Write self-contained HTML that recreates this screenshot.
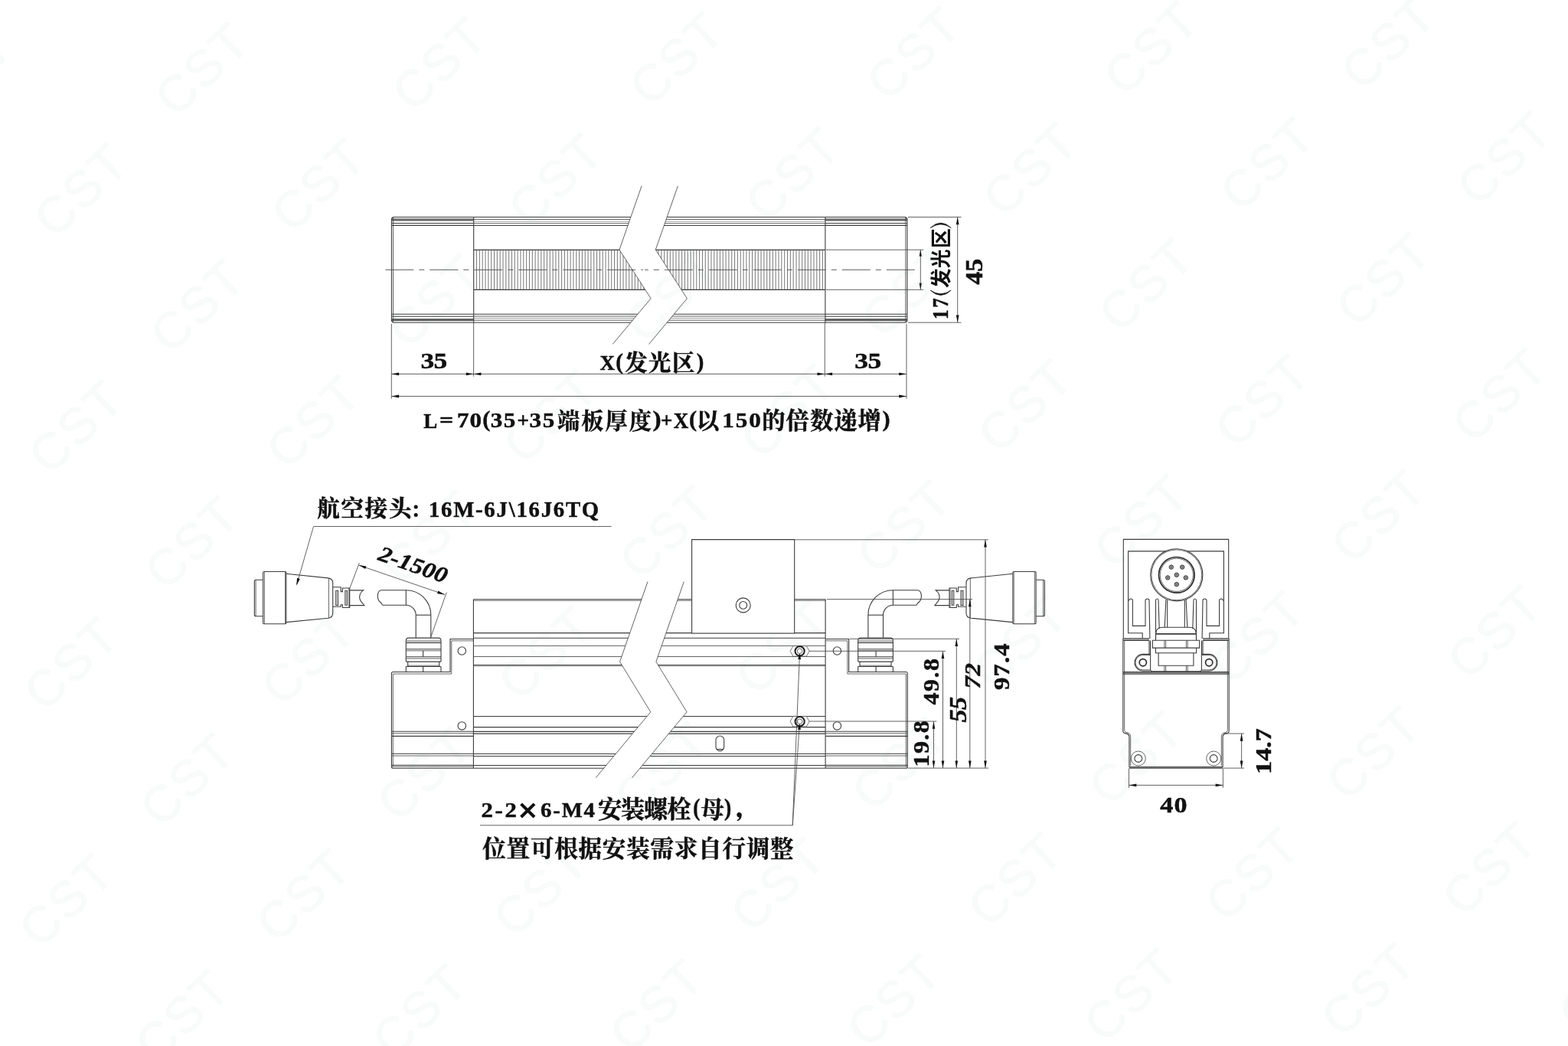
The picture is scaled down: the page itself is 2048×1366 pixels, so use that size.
<!DOCTYPE html>
<html lang="zh"><head><meta charset="utf-8"><title>Dimension drawing</title><style>
html,body{margin:0;padding:0;background:#fff;overflow:hidden}
svg{display:block;will-change:transform}
.o{fill:none;stroke:#3c3c3c;stroke-width:1.1}
.t{fill:none;stroke:#484848;stroke-width:.85}
.l{fill:none;stroke:#8a8a8a;stroke-width:.8}
.h{fill:none;stroke:#555;stroke-width:.8}
.k{fill:none;stroke:#1a1a1a;stroke-width:2}
.k2{fill:none;stroke:#2a2a2a;stroke-width:1.7}
.w{fill:#fff;stroke:none}
.a{fill:#111;stroke:none}
.cl{fill:none;stroke:#444;stroke-width:.85;stroke-dasharray:37 7 7 7}
.g{fill:#111}
text{font-kerning:none;font-family:"Liberation Serif",serif;font-weight:bold;fill:#111;stroke:#111;stroke-width:.5px}
text.cj{font-family:"Liberation Serif","Noto Serif CJK SC",serif;font-weight:bold}
text.cs{font-family:"Liberation Sans","Noto Sans CJK SC",sans-serif;font-weight:bold;stroke:none}
.wm text{font-family:"Liberation Sans",sans-serif;font-weight:normal;fill:#f8fbfa;stroke:#f8fbfa;stroke-width:1px;font-size:66px;letter-spacing:3px}
</style></head><body>
<svg role="img" aria-label="Dimension drawing of linear light with aviation connector" width="2048" height="1366" viewBox="0 0 2048 1366">
<g class="wm"><text text-anchor="middle" transform="translate(115.0 -64.9) rotate(-43.5)" x="-4" y="24">CST</text><text text-anchor="middle" transform="translate(424.9 -71.8) rotate(-43.5)" x="-4" y="24">CST</text><text text-anchor="middle" transform="translate(734.7 -78.7) rotate(-43.5)" x="-4" y="24">CST</text><text text-anchor="middle" transform="translate(1044.6 -85.6) rotate(-43.5)" x="-4" y="24">CST</text><text text-anchor="middle" transform="translate(1354.4 -92.5) rotate(-43.5)" x="-4" y="24">CST</text><text text-anchor="middle" transform="translate(1664.3 -99.4) rotate(-43.5)" x="-4" y="24">CST</text><text text-anchor="middle" transform="translate(1974.1 -106.3) rotate(-43.5)" x="-4" y="24">CST</text><text text-anchor="middle" transform="translate(-43.2 93.1) rotate(-43.5)" x="-4" y="24">CST</text><text text-anchor="middle" transform="translate(266.7 86.2) rotate(-43.5)" x="-4" y="24">CST</text><text text-anchor="middle" transform="translate(576.5 79.3) rotate(-43.5)" x="-4" y="24">CST</text><text text-anchor="middle" transform="translate(886.4 72.4) rotate(-43.5)" x="-4" y="24">CST</text><text text-anchor="middle" transform="translate(1196.2 65.5) rotate(-43.5)" x="-4" y="24">CST</text><text text-anchor="middle" transform="translate(1506.1 58.6) rotate(-43.5)" x="-4" y="24">CST</text><text text-anchor="middle" transform="translate(1816.0 51.8) rotate(-43.5)" x="-4" y="24">CST</text><text text-anchor="middle" transform="translate(2125.8 44.9) rotate(-43.5)" x="-4" y="24">CST</text><text text-anchor="middle" transform="translate(108.5 244.2) rotate(-43.5)" x="-4" y="24">CST</text><text text-anchor="middle" transform="translate(418.4 237.3) rotate(-43.5)" x="-4" y="24">CST</text><text text-anchor="middle" transform="translate(728.2 230.4) rotate(-43.5)" x="-4" y="24">CST</text><text text-anchor="middle" transform="translate(1038.1 223.6) rotate(-43.5)" x="-4" y="24">CST</text><text text-anchor="middle" transform="translate(1347.9 216.7) rotate(-43.5)" x="-4" y="24">CST</text><text text-anchor="middle" transform="translate(1657.8 209.8) rotate(-43.5)" x="-4" y="24">CST</text><text text-anchor="middle" transform="translate(1967.6 202.9) rotate(-43.5)" x="-4" y="24">CST</text><text text-anchor="middle" transform="translate(-49.6 402.2) rotate(-43.5)" x="-4" y="24">CST</text><text text-anchor="middle" transform="translate(260.2 395.4) rotate(-43.5)" x="-4" y="24">CST</text><text text-anchor="middle" transform="translate(570.1 388.5) rotate(-43.5)" x="-4" y="24">CST</text><text text-anchor="middle" transform="translate(879.9 381.6) rotate(-43.5)" x="-4" y="24">CST</text><text text-anchor="middle" transform="translate(1189.8 374.7) rotate(-43.5)" x="-4" y="24">CST</text><text text-anchor="middle" transform="translate(1499.6 367.8) rotate(-43.5)" x="-4" y="24">CST</text><text text-anchor="middle" transform="translate(1809.5 360.9) rotate(-43.5)" x="-4" y="24">CST</text><text text-anchor="middle" transform="translate(2119.3 354.0) rotate(-43.5)" x="-4" y="24">CST</text><text text-anchor="middle" transform="translate(102.0 553.4) rotate(-43.5)" x="-4" y="24">CST</text><text text-anchor="middle" transform="translate(411.9 546.5) rotate(-43.5)" x="-4" y="24">CST</text><text text-anchor="middle" transform="translate(721.7 539.6) rotate(-43.5)" x="-4" y="24">CST</text><text text-anchor="middle" transform="translate(1031.6 532.7) rotate(-43.5)" x="-4" y="24">CST</text><text text-anchor="middle" transform="translate(1341.4 525.8) rotate(-43.5)" x="-4" y="24">CST</text><text text-anchor="middle" transform="translate(1651.3 518.9) rotate(-43.5)" x="-4" y="24">CST</text><text text-anchor="middle" transform="translate(1961.1 512.0) rotate(-43.5)" x="-4" y="24">CST</text><text text-anchor="middle" transform="translate(-56.1 711.4) rotate(-43.5)" x="-4" y="24">CST</text><text text-anchor="middle" transform="translate(253.7 704.5) rotate(-43.5)" x="-4" y="24">CST</text><text text-anchor="middle" transform="translate(563.6 697.6) rotate(-43.5)" x="-4" y="24">CST</text><text text-anchor="middle" transform="translate(873.4 690.7) rotate(-43.5)" x="-4" y="24">CST</text><text text-anchor="middle" transform="translate(1183.3 683.8) rotate(-43.5)" x="-4" y="24">CST</text><text text-anchor="middle" transform="translate(1493.1 676.9) rotate(-43.5)" x="-4" y="24">CST</text><text text-anchor="middle" transform="translate(1803.0 670.1) rotate(-43.5)" x="-4" y="24">CST</text><text text-anchor="middle" transform="translate(2112.8 663.2) rotate(-43.5)" x="-4" y="24">CST</text><text text-anchor="middle" transform="translate(95.6 862.5) rotate(-43.5)" x="-4" y="24">CST</text><text text-anchor="middle" transform="translate(405.4 855.6) rotate(-43.5)" x="-4" y="24">CST</text><text text-anchor="middle" transform="translate(715.3 848.7) rotate(-43.5)" x="-4" y="24">CST</text><text text-anchor="middle" transform="translate(1025.1 841.9) rotate(-43.5)" x="-4" y="24">CST</text><text text-anchor="middle" transform="translate(1335.0 835.0) rotate(-43.5)" x="-4" y="24">CST</text><text text-anchor="middle" transform="translate(1644.8 828.1) rotate(-43.5)" x="-4" y="24">CST</text><text text-anchor="middle" transform="translate(1954.7 821.2) rotate(-43.5)" x="-4" y="24">CST</text><text text-anchor="middle" transform="translate(-62.6 1020.5) rotate(-43.5)" x="-4" y="24">CST</text><text text-anchor="middle" transform="translate(247.2 1013.7) rotate(-43.5)" x="-4" y="24">CST</text><text text-anchor="middle" transform="translate(557.1 1006.8) rotate(-43.5)" x="-4" y="24">CST</text><text text-anchor="middle" transform="translate(866.9 999.9) rotate(-43.5)" x="-4" y="24">CST</text><text text-anchor="middle" transform="translate(1176.8 993.0) rotate(-43.5)" x="-4" y="24">CST</text><text text-anchor="middle" transform="translate(1486.6 986.1) rotate(-43.5)" x="-4" y="24">CST</text><text text-anchor="middle" transform="translate(1796.5 979.2) rotate(-43.5)" x="-4" y="24">CST</text><text text-anchor="middle" transform="translate(2106.3 972.3) rotate(-43.5)" x="-4" y="24">CST</text><text text-anchor="middle" transform="translate(89.1 1171.7) rotate(-43.5)" x="-4" y="24">CST</text><text text-anchor="middle" transform="translate(398.9 1164.8) rotate(-43.5)" x="-4" y="24">CST</text><text text-anchor="middle" transform="translate(708.8 1157.9) rotate(-43.5)" x="-4" y="24">CST</text><text text-anchor="middle" transform="translate(1018.6 1151.0) rotate(-43.5)" x="-4" y="24">CST</text><text text-anchor="middle" transform="translate(1328.5 1144.1) rotate(-43.5)" x="-4" y="24">CST</text><text text-anchor="middle" transform="translate(1638.3 1137.2) rotate(-43.5)" x="-4" y="24">CST</text><text text-anchor="middle" transform="translate(1948.2 1130.3) rotate(-43.5)" x="-4" y="24">CST</text><text text-anchor="middle" transform="translate(-69.1 1329.7) rotate(-43.5)" x="-4" y="24">CST</text><text text-anchor="middle" transform="translate(240.7 1322.8) rotate(-43.5)" x="-4" y="24">CST</text><text text-anchor="middle" transform="translate(550.6 1315.9) rotate(-43.5)" x="-4" y="24">CST</text><text text-anchor="middle" transform="translate(860.4 1309.0) rotate(-43.5)" x="-4" y="24">CST</text><text text-anchor="middle" transform="translate(1170.3 1302.1) rotate(-43.5)" x="-4" y="24">CST</text><text text-anchor="middle" transform="translate(1480.1 1295.2) rotate(-43.5)" x="-4" y="24">CST</text><text text-anchor="middle" transform="translate(1790.0 1288.4) rotate(-43.5)" x="-4" y="24">CST</text><text text-anchor="middle" transform="translate(2099.8 1281.5) rotate(-43.5)" x="-4" y="24">CST</text><text text-anchor="middle" transform="translate(392.4 1473.9) rotate(-43.5)" x="-4" y="24">CST</text><text text-anchor="middle" transform="translate(702.3 1467.0) rotate(-43.5)" x="-4" y="24">CST</text><text text-anchor="middle" transform="translate(1012.1 1460.2) rotate(-43.5)" x="-4" y="24">CST</text><text text-anchor="middle" transform="translate(1322.0 1453.3) rotate(-43.5)" x="-4" y="24">CST</text><text text-anchor="middle" transform="translate(1631.8 1446.4) rotate(-43.5)" x="-4" y="24">CST</text><text text-anchor="middle" transform="translate(1941.7 1439.5) rotate(-43.5)" x="-4" y="24">CST</text></g>
<clipPath id="tcl"><path d="M838.10 242.80L809.00 326.10L850.10 389.80L800.20 449.50L400 449.5L400 242.8Z"/></clipPath><clipPath id="tcr"><path d="M885.40 242.80L856.30 326.10L897.40 389.80L847.50 449.50L1300 449.5L1300 242.8Z"/></clipPath><g clip-path="url(#tcl)"><path class="h" d="M622.53 326.4V378.4M626.36 326.4V378.4M630.19 326.4V378.4M634.02 326.4V378.4M637.85 326.4V378.4M641.68 326.4V378.4M645.51 326.4V378.4M649.34 326.4V378.4M653.17 326.4V378.4M657.00 326.4V378.4M660.83 326.4V378.4M664.66 326.4V378.4M668.49 326.4V378.4M672.32 326.4V378.4M676.15 326.4V378.4M679.98 326.4V378.4M683.81 326.4V378.4M687.64 326.4V378.4M691.47 326.4V378.4M695.30 326.4V378.4M699.13 326.4V378.4M702.96 326.4V378.4M706.79 326.4V378.4M710.62 326.4V378.4M714.45 326.4V378.4M718.28 326.4V378.4M722.11 326.4V378.4M725.94 326.4V378.4M729.77 326.4V378.4M733.60 326.4V378.4M737.43 326.4V378.4M741.26 326.4V378.4M745.09 326.4V378.4M748.92 326.4V378.4M752.75 326.4V378.4M756.58 326.4V378.4M760.41 326.4V378.4M764.24 326.4V378.4M768.07 326.4V378.4M771.90 326.4V378.4M775.73 326.4V378.4M779.56 326.4V378.4M783.39 326.4V378.4M787.22 326.4V378.4M791.05 326.4V378.4M794.88 326.4V378.4M798.71 326.4V378.4M802.54 326.4V378.4M806.37 326.4V378.4M810.20 326.4V378.4M814.03 326.4V378.4M817.86 326.4V378.4M821.69 326.4V378.4M825.52 326.4V378.4M829.35 326.4V378.4M833.18 326.4V378.4M837.01 326.4V378.4M840.84 326.4V378.4M844.67 326.4V378.4M848.50 326.4V378.4M852.33 326.4V378.4M856.16 326.4V378.4M859.99 326.4V378.4M863.82 326.4V378.4M867.65 326.4V378.4M871.48 326.4V378.4M875.31 326.4V378.4M879.14 326.4V378.4M882.97 326.4V378.4M886.80 326.4V378.4M890.63 326.4V378.4M894.46 326.4V378.4M898.29 326.4V378.4M902.12 326.4V378.4M905.95 326.4V378.4M909.78 326.4V378.4M913.61 326.4V378.4M917.44 326.4V378.4M921.27 326.4V378.4M925.10 326.4V378.4M928.93 326.4V378.4M932.76 326.4V378.4M936.59 326.4V378.4M940.42 326.4V378.4M944.25 326.4V378.4M948.08 326.4V378.4M951.91 326.4V378.4M955.74 326.4V378.4M959.57 326.4V378.4M963.40 326.4V378.4M967.23 326.4V378.4M971.06 326.4V378.4M974.89 326.4V378.4M978.72 326.4V378.4M982.55 326.4V378.4M986.38 326.4V378.4M990.21 326.4V378.4M994.04 326.4V378.4M997.87 326.4V378.4M1001.70 326.4V378.4M1005.53 326.4V378.4M1009.36 326.4V378.4M1013.19 326.4V378.4M1017.02 326.4V378.4M1020.85 326.4V378.4M1024.68 326.4V378.4M1028.51 326.4V378.4M1032.34 326.4V378.4M1036.17 326.4V378.4M1040.00 326.4V378.4M1043.83 326.4V378.4M1047.66 326.4V378.4M1051.49 326.4V378.4M1055.32 326.4V378.4M1059.15 326.4V378.4M1062.98 326.4V378.4M1066.81 326.4V378.4M1070.64 326.4V378.4M1074.47 326.4V378.4"/></g><g clip-path="url(#tcr)"><path class="h" d="M622.53 326.4V378.4M626.36 326.4V378.4M630.19 326.4V378.4M634.02 326.4V378.4M637.85 326.4V378.4M641.68 326.4V378.4M645.51 326.4V378.4M649.34 326.4V378.4M653.17 326.4V378.4M657.00 326.4V378.4M660.83 326.4V378.4M664.66 326.4V378.4M668.49 326.4V378.4M672.32 326.4V378.4M676.15 326.4V378.4M679.98 326.4V378.4M683.81 326.4V378.4M687.64 326.4V378.4M691.47 326.4V378.4M695.30 326.4V378.4M699.13 326.4V378.4M702.96 326.4V378.4M706.79 326.4V378.4M710.62 326.4V378.4M714.45 326.4V378.4M718.28 326.4V378.4M722.11 326.4V378.4M725.94 326.4V378.4M729.77 326.4V378.4M733.60 326.4V378.4M737.43 326.4V378.4M741.26 326.4V378.4M745.09 326.4V378.4M748.92 326.4V378.4M752.75 326.4V378.4M756.58 326.4V378.4M760.41 326.4V378.4M764.24 326.4V378.4M768.07 326.4V378.4M771.90 326.4V378.4M775.73 326.4V378.4M779.56 326.4V378.4M783.39 326.4V378.4M787.22 326.4V378.4M791.05 326.4V378.4M794.88 326.4V378.4M798.71 326.4V378.4M802.54 326.4V378.4M806.37 326.4V378.4M810.20 326.4V378.4M814.03 326.4V378.4M817.86 326.4V378.4M821.69 326.4V378.4M825.52 326.4V378.4M829.35 326.4V378.4M833.18 326.4V378.4M837.01 326.4V378.4M840.84 326.4V378.4M844.67 326.4V378.4M848.50 326.4V378.4M852.33 326.4V378.4M856.16 326.4V378.4M859.99 326.4V378.4M863.82 326.4V378.4M867.65 326.4V378.4M871.48 326.4V378.4M875.31 326.4V378.4M879.14 326.4V378.4M882.97 326.4V378.4M886.80 326.4V378.4M890.63 326.4V378.4M894.46 326.4V378.4M898.29 326.4V378.4M902.12 326.4V378.4M905.95 326.4V378.4M909.78 326.4V378.4M913.61 326.4V378.4M917.44 326.4V378.4M921.27 326.4V378.4M925.10 326.4V378.4M928.93 326.4V378.4M932.76 326.4V378.4M936.59 326.4V378.4M940.42 326.4V378.4M944.25 326.4V378.4M948.08 326.4V378.4M951.91 326.4V378.4M955.74 326.4V378.4M959.57 326.4V378.4M963.40 326.4V378.4M967.23 326.4V378.4M971.06 326.4V378.4M974.89 326.4V378.4M978.72 326.4V378.4M982.55 326.4V378.4M986.38 326.4V378.4M990.21 326.4V378.4M994.04 326.4V378.4M997.87 326.4V378.4M1001.70 326.4V378.4M1005.53 326.4V378.4M1009.36 326.4V378.4M1013.19 326.4V378.4M1017.02 326.4V378.4M1020.85 326.4V378.4M1024.68 326.4V378.4M1028.51 326.4V378.4M1032.34 326.4V378.4M1036.17 326.4V378.4M1040.00 326.4V378.4M1043.83 326.4V378.4M1047.66 326.4V378.4M1051.49 326.4V378.4M1055.32 326.4V378.4M1059.15 326.4V378.4M1062.98 326.4V378.4M1066.81 326.4V378.4M1070.64 326.4V378.4M1074.47 326.4V378.4"/></g><g clip-path="url(#tcl)"><path class="o" d="M618.70 283.50L1077.90 283.50"/><path class="o" d="M618.70 421.20L1077.90 421.20"/><path class="t" d="M618.70 286.50L1077.90 286.50"/><path class="t" d="M618.70 418.20L1077.90 418.20"/><path class="l" d="M618.70 289.20L1077.90 289.20"/><path class="l" d="M618.70 415.50L1077.90 415.50"/><path class="t" d="M618.70 291.70L1077.90 291.70"/><path class="t" d="M618.70 413.00L1077.90 413.00"/><path class="o" d="M618.70 294.50L1077.90 294.50"/><path class="o" d="M618.70 410.20L1077.90 410.20"/><path class="o" d="M618.70 326.40L1077.90 326.40"/><path class="o" d="M618.70 378.40L1077.90 378.40"/></g><g clip-path="url(#tcr)"><path class="o" d="M618.70 283.50L1077.90 283.50"/><path class="o" d="M618.70 421.20L1077.90 421.20"/><path class="t" d="M618.70 286.50L1077.90 286.50"/><path class="t" d="M618.70 418.20L1077.90 418.20"/><path class="l" d="M618.70 289.20L1077.90 289.20"/><path class="l" d="M618.70 415.50L1077.90 415.50"/><path class="t" d="M618.70 291.70L1077.90 291.70"/><path class="t" d="M618.70 413.00L1077.90 413.00"/><path class="o" d="M618.70 294.50L1077.90 294.50"/><path class="o" d="M618.70 410.20L1077.90 410.20"/><path class="o" d="M618.70 326.40L1077.90 326.40"/><path class="o" d="M618.70 378.40L1077.90 378.40"/></g><path class="o" d="M513.40 283.50L618.70 283.50"/><path class="o" d="M513.40 421.20L618.70 421.20"/><path class="o" d="M511.40 286.00L618.70 286.00"/><path class="o" d="M511.40 418.70L618.70 418.70"/><path class="o" d="M511.40 287.00L618.70 287.00"/><path class="o" d="M511.40 417.70L618.70 417.70"/><path class="o" d="M511.40 288.00L618.70 288.00"/><path class="o" d="M511.40 416.70L618.70 416.70"/><path class="o" d="M511.40 291.50L618.70 291.50"/><path class="o" d="M511.40 413.20L618.70 413.20"/><path class="o" d="M511.40 294.40L618.70 294.40"/><path class="o" d="M511.40 410.30L618.70 410.30"/><path class="o" d="M513.40 283.50L511.40 285.50V419.20L513.40 421.20"/><path class="t" d="M513.50 283.50L513.50 421.20"/><path class="o" d="M618.70 283.50L618.70 421.20"/><path class="o" d="M1182.90 283.50L1077.90 283.50"/><path class="o" d="M1182.90 421.20L1077.90 421.20"/><path class="o" d="M1184.90 286.00L1077.90 286.00"/><path class="o" d="M1184.90 418.70L1077.90 418.70"/><path class="o" d="M1184.90 287.00L1077.90 287.00"/><path class="o" d="M1184.90 417.70L1077.90 417.70"/><path class="o" d="M1184.90 288.00L1077.90 288.00"/><path class="o" d="M1184.90 416.70L1077.90 416.70"/><path class="o" d="M1184.90 291.50L1077.90 291.50"/><path class="o" d="M1184.90 413.20L1077.90 413.20"/><path class="o" d="M1184.90 294.40L1077.90 294.40"/><path class="o" d="M1184.90 410.30L1077.90 410.30"/><path class="o" d="M1182.90 283.50L1184.90 285.50V419.20L1182.90 421.20"/><path class="t" d="M1182.80 283.50L1182.80 421.20"/><path class="o" d="M1077.90 283.50L1077.90 421.20"/><path class="t" d="M838.10 242.80L809.00 326.10L850.10 389.80L800.20 449.50"/><path class="t" d="M885.40 242.80L856.30 326.10L897.40 389.80L847.50 449.50"/><path class="cl" d="M503.3 352.35H840"/><path class="cl" d="M1194.8 352.35H842"/><path class="t" d="M511.30 422.80L511.30 520.80"/><path class="t" d="M1184.00 422.80L1184.00 520.80"/><path class="t" d="M618.60 421.20L618.60 491.60"/><path class="t" d="M1077.30 421.20L1077.30 491.60"/><path class="t" d="M511.30 488.40L1184.00 488.40"/><path class="t" d="M511.30 517.50L1184.00 517.50"/><path class="a" d="M511.30 488.40L521.10 486.50L521.10 490.30Z"/><path class="a" d="M618.60 488.40L608.80 490.30L608.80 486.50Z"/><path class="a" d="M618.60 488.40L628.40 486.50L628.40 490.30Z"/><path class="a" d="M1077.30 488.40L1067.50 490.30L1067.50 486.50Z"/><path class="a" d="M1077.30 488.40L1087.10 486.50L1087.10 490.30Z"/><path class="a" d="M1184.00 488.40L1174.20 490.30L1174.20 486.50Z"/><path class="a" d="M511.30 517.50L521.10 515.60L521.10 519.40Z"/><path class="a" d="M1184.00 517.50L1174.20 519.40L1174.20 515.60Z"/><path class="t" d="M1186.00 283.50L1255.50 283.50"/><path class="t" d="M1186.00 421.20L1255.50 421.20"/><path class="t" d="M1250.70 283.50L1250.70 421.20"/><path class="a" d="M1250.70 283.50L1252.60 293.30L1248.80 293.30Z"/><path class="a" d="M1250.70 421.20L1248.80 411.40L1252.60 411.40Z"/><path class="t" d="M1079.00 326.20L1206.20 326.20"/><path class="t" d="M1079.00 378.30L1206.20 378.30"/><path class="t" d="M1202.30 326.20L1202.30 378.30"/><path class="a" d="M1202.30 326.20L1203.90 334.70L1200.70 334.70Z"/><path class="a" d="M1202.30 378.30L1200.70 369.80L1203.90 369.80Z"/>
<g><path class="o" d="M618.4 834.5H588.0V877.5H513.4Q511.4 877.5 511.4 879.5V1001.2Q511.4 1003.2 513.4 1003.2H618.4"/><path class="t" d="M618.4 836.8H589.8V880.0H513.3V1001.0"/><path class="o" d="M511.40 955.30L618.40 955.30"/><path class="t" d="M511.40 957.80L618.40 957.80"/><path class="o" d="M511.40 961.40L618.40 961.40"/><path class="o" d="M511.40 984.30L618.40 984.30"/><path class="t" d="M511.40 987.00L618.40 987.00"/><path class="o" d="M511.40 999.30L618.40 999.30"/><path class="t" d="M511.40 1001.00L618.40 1001.00"/><circle class="o" cx="603.30" cy="850.00" r="5.20"/><circle class="o" cx="603.30" cy="947.90" r="5.20"/><path class="o" d="M530.3 864.1V836.5Q530.3 833.1 533.7 833.1H572.6Q576.0 833.1 576.0 836.5V864.1"/><path class="t" d="M530.30 837.00L576.00 837.00"/><path class="o" d="M530.30 839.40L576.00 839.40"/><path class="o" d="M530.30 847.80L576.00 847.80"/><path class="t" d="M530.30 849.80L576.00 849.80"/><path class="o" d="M530.30 857.80L576.00 857.80"/><path class="t" d="M530.30 860.00L576.00 860.00"/><path class="o" d="M530.30 864.10L576.00 864.10"/><path class="o" d="M552.60 849.80L552.60 857.80"/><path class="o" d="M532.7 864.1V870.5M573.7 864.1V870.5"/><path class="t" d="M532.70 869.20L573.70 869.20"/><path class="o" d="M530.30 870.50L576.00 870.50"/><path class="o" d="M530.3 870.5V877.5M576.0 870.5V877.5M552.6 870.5V877.5"/><path class="o" d="M497.5 770.70H530.30A32.50 32.50 0 0 1 562.80 803.20V833.1"/><path class="o" d="M499.3 790.30H530.30A12.90 12.90 0 0 1 543.20 803.20V833.1"/><path class="o" d="M530.30 770.70L530.30 790.30"/><path class="o" d="M543.20 803.20L562.80 803.20"/><path class="o" d="M497.5 770.7C492.3 772.2 492.0 782.5 496.3 786.0C498.3 787.6 499.3 788.8 499.3 790.3"/><path class="o" d="M456.7 770.9H474.5C470.8 773.5 468.3 778.5 470.3 783.2C471.8 786.6 474.8 788.8 475.8 790.6H456.7"/><path class="o" d="M435.0 766.7H445.2V772.6H447.4V768.0H456.7V793.5H447.4V789.8H445.2V792.2H435.0"/><rect x="438.7" y="771.2" width="3.0" height="19.4" fill="#c9c9c9" stroke="#262626" stroke-width=".8"/><rect x="450.8" y="771.2" width="2.8" height="19.0" fill="#c9c9c9" stroke="#262626" stroke-width=".8"/><path class="t" d="M455.70 768.00L455.70 793.50"/><path class="o" d="M373.8 749.2L428.6 754.9Q434.7 755.6 434.7 761.6V800.4Q434.7 806.4 428.6 807.2L373.8 812.6"/><path class="t" d="M429.40 755.00L429.40 807.10"/><path class="o" d="M345.0 746.5H372.4Q373.8 746.5 373.8 747.9V813.4Q373.8 814.8 372.4 814.8H345.0Q343.6 814.8 343.6 813.4V747.9Q343.6 746.5 345.0 746.5Z"/><path class="t" d="M345.40 746.50L345.40 814.80"/><path class="t" d="M372.50 746.50L372.50 814.80"/><path class="o" d="M343.6 757.2H334.3Q332.3 757.2 332.3 759.2V802.7Q332.3 804.7 334.3 804.7H343.6"/><path class="t" d="M334.10 757.50L334.10 804.40"/></g><g transform="translate(1696.70 0) scale(-1 1)"><path class="o" d="M618.4 834.5H588.0V877.5H513.4Q511.4 877.5 511.4 879.5V1001.2Q511.4 1003.2 513.4 1003.2H618.4"/><path class="t" d="M618.4 836.8H589.8V880.0H513.3V1001.0"/><path class="o" d="M511.40 955.30L618.40 955.30"/><path class="t" d="M511.40 957.80L618.40 957.80"/><path class="o" d="M511.40 961.40L618.40 961.40"/><path class="o" d="M511.40 984.30L618.40 984.30"/><path class="t" d="M511.40 987.00L618.40 987.00"/><path class="o" d="M511.40 999.30L618.40 999.30"/><path class="t" d="M511.40 1001.00L618.40 1001.00"/><circle class="o" cx="603.30" cy="850.00" r="5.20"/><circle class="o" cx="603.30" cy="947.90" r="5.20"/><path class="o" d="M530.3 864.1V836.5Q530.3 833.1 533.7 833.1H572.6Q576.0 833.1 576.0 836.5V864.1"/><path class="t" d="M530.30 837.00L576.00 837.00"/><path class="o" d="M530.30 839.40L576.00 839.40"/><path class="o" d="M530.30 847.80L576.00 847.80"/><path class="t" d="M530.30 849.80L576.00 849.80"/><path class="o" d="M530.30 857.80L576.00 857.80"/><path class="t" d="M530.30 860.00L576.00 860.00"/><path class="o" d="M530.30 864.10L576.00 864.10"/><path class="o" d="M552.60 849.80L552.60 857.80"/><path class="o" d="M532.7 864.1V870.5M573.7 864.1V870.5"/><path class="t" d="M532.70 869.20L573.70 869.20"/><path class="o" d="M530.30 870.50L576.00 870.50"/><path class="o" d="M530.3 870.5V877.5M576.0 870.5V877.5M552.6 870.5V877.5"/><path class="o" d="M497.5 770.70H530.30A32.50 32.50 0 0 1 562.80 803.20V833.1"/><path class="o" d="M499.3 790.30H530.30A12.90 12.90 0 0 1 543.20 803.20V833.1"/><path class="o" d="M530.30 770.70L530.30 790.30"/><path class="o" d="M543.20 803.20L562.80 803.20"/><path class="o" d="M497.5 770.7C492.3 772.2 492.0 782.5 496.3 786.0C498.3 787.6 499.3 788.8 499.3 790.3"/><path class="o" d="M456.7 770.9H474.5C470.8 773.5 468.3 778.5 470.3 783.2C471.8 786.6 474.8 788.8 475.8 790.6H456.7"/><path class="o" d="M435.0 766.7H445.2V772.6H447.4V768.0H456.7V793.5H447.4V789.8H445.2V792.2H435.0"/><rect x="438.7" y="771.2" width="3.0" height="19.4" fill="#c9c9c9" stroke="#262626" stroke-width=".8"/><rect x="450.8" y="771.2" width="2.8" height="19.0" fill="#c9c9c9" stroke="#262626" stroke-width=".8"/><path class="t" d="M455.70 768.00L455.70 793.50"/><path class="o" d="M373.8 749.2L428.6 754.9Q434.7 755.6 434.7 761.6V800.4Q434.7 806.4 428.6 807.2L373.8 812.6"/><path class="t" d="M429.40 755.00L429.40 807.10"/><path class="o" d="M345.0 746.5H372.4Q373.8 746.5 373.8 747.9V813.4Q373.8 814.8 372.4 814.8H345.0Q343.6 814.8 343.6 813.4V747.9Q343.6 746.5 345.0 746.5Z"/><path class="t" d="M345.40 746.50L345.40 814.80"/><path class="t" d="M372.50 746.50L372.50 814.80"/><path class="o" d="M343.6 757.2H334.3Q332.3 757.2 332.3 759.2V802.7Q332.3 804.7 334.3 804.7H343.6"/><path class="t" d="M334.10 757.50L334.10 804.40"/></g><clipPath id="scl"><path d="M866.74 700.00L846.00 759.60L809.60 864.20L849.80 929.80L778.20 1015.70L400 1015.7L400 700Z"/></clipPath><clipPath id="scr"><path d="M914.04 700.00L893.30 759.60L856.90 864.20L897.10 929.80L825.50 1015.70L1300 1015.7L1300 700Z"/></clipPath><g clip-path="url(#scl)"><path class="o" d="M618.40 782.70L1078.10 782.70"/><path class="t" d="M618.40 784.20L1078.10 784.20"/><path class="o" d="M618.40 826.60L1078.10 826.60"/><path class="o" d="M618.40 833.30L1078.10 833.30"/><path class="t" d="M618.40 843.40L1078.10 843.40"/><path class="t" d="M618.40 857.50L1078.10 857.50"/><path class="o" d="M618.40 868.60L1078.10 868.60"/><path class="l" d="M618.40 870.00L1078.10 870.00"/><path class="o" d="M618.40 935.50L1078.10 935.50"/><path class="o" d="M618.40 949.60L1078.10 949.60"/><path class="o" d="M618.40 955.40L1078.10 955.40"/><path class="o" d="M618.40 958.10L1078.10 958.10"/><path class="o" d="M618.40 984.50L1078.10 984.50"/><path class="o" d="M618.40 987.50L1078.10 987.50"/><path class="o" d="M618.40 999.50L1078.10 999.50"/><path class="o" d="M618.40 1003.20L1078.10 1003.20"/></g><g clip-path="url(#scr)"><path class="o" d="M618.40 782.70L1078.10 782.70"/><path class="t" d="M618.40 784.20L1078.10 784.20"/><path class="o" d="M618.40 826.60L1078.10 826.60"/><path class="o" d="M618.40 833.30L1078.10 833.30"/><path class="t" d="M618.40 843.40L1078.10 843.40"/><path class="t" d="M618.40 857.50L1078.10 857.50"/><path class="o" d="M618.40 868.60L1078.10 868.60"/><path class="l" d="M618.40 870.00L1078.10 870.00"/><path class="o" d="M618.40 935.50L1078.10 935.50"/><path class="o" d="M618.40 949.60L1078.10 949.60"/><path class="o" d="M618.40 955.40L1078.10 955.40"/><path class="o" d="M618.40 958.10L1078.10 958.10"/><path class="o" d="M618.40 984.50L1078.10 984.50"/><path class="o" d="M618.40 987.50L1078.10 987.50"/><path class="o" d="M618.40 999.50L1078.10 999.50"/><path class="o" d="M618.40 1003.20L1078.10 1003.20"/></g><path class="o" d="M618.40 782.70L618.40 1003.20"/><path class="o" d="M1078.10 782.70L1078.10 1003.20"/><path class="o" d="M935.0 966.3A5.35 5.35 0 0 1 945.7 966.3V975.3A5.35 5.35 0 0 1 935.0 975.3Z"/><path class="o" d="M936.00 978.50L944.70 978.50"/><rect class="w" x="903.6" y="704.6" width="134.1" height="122.4"/><path class="o" d="M903.6 704.6H1037.7V827.0H903.6Z"/><circle class="o" cx="970.70" cy="790.40" r="9.50"/><circle class="o" cx="970.70" cy="790.40" r="4.90"/><path class="t" d="M846.00 759.60L809.60 864.20L849.80 929.80L778.20 1015.70"/><path class="t" d="M893.30 759.60L856.90 864.20L897.10 929.80L825.50 1015.70"/><path d="M1032.15 850.30L1035.90 843.50H1053.30L1057.05 850.30L1053.30 857.10H1035.90Z" fill="#fff" stroke="#555" stroke-width=".8"/><circle class="k" cx="1044.60" cy="850.30" r="6.10"/><circle class="t" cx="1044.60" cy="850.30" r="3.30"/><path d="M1032.15 942.20L1035.90 935.40H1053.30L1057.05 942.20L1053.30 949.00H1035.90Z" fill="#fff" stroke="#555" stroke-width=".8"/><circle class="k" cx="1044.60" cy="942.20" r="6.10"/><circle class="t" cx="1044.60" cy="942.20" r="3.30"/>
<g><path class="o" d="M1536 704.4H1467.3V833.8"/><path class="o" d="M1536 719.9H1473.6V826.8H1492.2V833.8"/><path class="o" d="M1474.6 784.6Q1474.6 782.0 1477.0 782.0Q1479.4 782.0 1479.4 784.6V817.4H1496.0V784.6Q1496.0 782.0 1498.5 782.0Q1501.0 782.0 1501.0 784.6L1501.9 834.0"/><path class="o" d="M1509.5 836.2V784.0Q1509.5 782.0 1511.3 782.0Q1513.0 782.0 1513.0 784.0L1514.2 821.0"/><path class="o" d="M1522.9 782.9L1521.2 819.2M1524.7 783.4V819.2"/><path class="o" d="M1467.30 833.80L1501.00 833.80"/><path class="t" d="M1467.30 835.00L1501.00 835.00"/><path class="o" d="M1467.30 836.40L1501.00 836.40"/><path class="o" d="M1466.8 833.8V954.3Q1466.8 957.6 1470.6 957.9Q1474.9 958.3 1474.9 962.5V1001.6H1536"/><path class="t" d="M1468.7 836.4V953.8Q1468.9 956.4 1472.0 956.7Q1476.7 957.3 1476.7 962.3V1000.2"/><path class="o" d="M1474.90 1003.10L1536.00 1003.10"/><path class="o" d="M1466.80 877.60L1536.00 877.60"/><path class="t" d="M1466.80 878.90L1536.00 878.90"/><path class="o" d="M1466.80 880.10L1536.00 880.10"/><path class="o" d="M1501.0 836.4V854.4"/><path class="o" d="M1502.6 836.4V873.8Q1502.6 876.9 1505.7 876.9H1536"/><path class="o" d="M1502.6 854.40H1492.80A10.8 10.8 0 0 0 1492.80 876.00H1502.6"/><path class="t" d="M1502.6 855.50H1492.80A9.7 9.7 0 0 0 1492.80 874.90H1502.6"/><circle class="k2" cx="1492.80" cy="865.20" r="4.60"/><path class="o" d="M1509.5 836.2V828.0Q1509.8 819.2 1518.5 819.2H1536"/><path class="o" d="M1509.50 827.50L1536.00 827.50"/><path class="t" d="M1509.50 828.60L1536.00 828.60"/><path class="o" d="M1536 836.2H1505.4V846.1H1536"/><path class="t" d="M1520.8 836.2V846.1M1522.6 836.2V846.1"/><path class="o" d="M1509.4 846.1V852.7H1536"/><path class="o" d="M1513.1 852.7V869.3H1536"/><path class="t" d="M1520.8 869.3V877.6M1522.6 869.3V877.6"/><circle class="t" cx="1486.80" cy="990.50" r="9.50"/><circle class="o" cx="1486.80" cy="990.50" r="4.90"/></g><g transform="translate(3072.00 0) scale(-1 1)"><path class="o" d="M1536 704.4H1467.3V833.8"/><path class="o" d="M1536 719.9H1473.6V826.8H1492.2V833.8"/><path class="o" d="M1474.6 784.6Q1474.6 782.0 1477.0 782.0Q1479.4 782.0 1479.4 784.6V817.4H1496.0V784.6Q1496.0 782.0 1498.5 782.0Q1501.0 782.0 1501.0 784.6L1501.9 834.0"/><path class="o" d="M1509.5 836.2V784.0Q1509.5 782.0 1511.3 782.0Q1513.0 782.0 1513.0 784.0L1514.2 821.0"/><path class="o" d="M1522.9 782.9L1521.2 819.2M1524.7 783.4V819.2"/><path class="o" d="M1467.30 833.80L1501.00 833.80"/><path class="t" d="M1467.30 835.00L1501.00 835.00"/><path class="o" d="M1467.30 836.40L1501.00 836.40"/><path class="o" d="M1466.8 833.8V954.3Q1466.8 957.6 1470.6 957.9Q1474.9 958.3 1474.9 962.5V1001.6H1536"/><path class="t" d="M1468.7 836.4V953.8Q1468.9 956.4 1472.0 956.7Q1476.7 957.3 1476.7 962.3V1000.2"/><path class="o" d="M1474.90 1003.10L1536.00 1003.10"/><path class="o" d="M1466.80 877.60L1536.00 877.60"/><path class="t" d="M1466.80 878.90L1536.00 878.90"/><path class="o" d="M1466.80 880.10L1536.00 880.10"/><path class="o" d="M1501.0 836.4V854.4"/><path class="o" d="M1502.6 836.4V873.8Q1502.6 876.9 1505.7 876.9H1536"/><path class="o" d="M1502.6 854.40H1492.80A10.8 10.8 0 0 0 1492.80 876.00H1502.6"/><path class="t" d="M1502.6 855.50H1492.80A9.7 9.7 0 0 0 1492.80 874.90H1502.6"/><circle class="k2" cx="1492.80" cy="865.20" r="4.60"/><path class="o" d="M1509.5 836.2V828.0Q1509.8 819.2 1518.5 819.2H1536"/><path class="o" d="M1509.50 827.50L1536.00 827.50"/><path class="t" d="M1509.50 828.60L1536.00 828.60"/><path class="o" d="M1536 836.2H1505.4V846.1H1536"/><path class="t" d="M1520.8 836.2V846.1M1522.6 836.2V846.1"/><path class="o" d="M1509.4 846.1V852.7H1536"/><path class="o" d="M1513.1 852.7V869.3H1536"/><path class="t" d="M1520.8 869.3V877.6M1522.6 869.3V877.6"/><circle class="t" cx="1486.80" cy="990.50" r="9.50"/><circle class="o" cx="1486.80" cy="990.50" r="4.90"/></g><circle cx="1536.80" cy="750.80" r="34.1" fill="#fff" stroke="none"/><circle class="o" cx="1536.80" cy="750.80" r="34.10"/><circle class="t" cx="1536.80" cy="750.80" r="32.90"/><circle class="k2" cx="1536.80" cy="750.80" r="23.30"/><circle class="t" cx="1536.80" cy="750.80" r="21.60"/><circle cx="1529.80" cy="740.60" r="2.7" fill="#9a9a9a" stroke="#333" stroke-width="1"/><circle cx="1529.80" cy="740.60" r=".8" fill="#444"/><circle cx="1544.20" cy="740.60" r="2.7" fill="#9a9a9a" stroke="#333" stroke-width="1"/><circle cx="1544.20" cy="740.60" r=".8" fill="#444"/><circle cx="1525.20" cy="754.40" r="2.7" fill="#9a9a9a" stroke="#333" stroke-width="1"/><circle cx="1525.20" cy="754.40" r=".8" fill="#444"/><circle cx="1548.80" cy="754.40" r="2.7" fill="#9a9a9a" stroke="#333" stroke-width="1"/><circle cx="1548.80" cy="754.40" r=".8" fill="#444"/><circle cx="1536.80" cy="763.10" r="2.7" fill="#9a9a9a" stroke="#333" stroke-width="1"/><circle cx="1536.80" cy="763.10" r=".8" fill="#444"/><circle cx="1536.80" cy="750.80" r="2.7" fill="#9a9a9a" stroke="#333" stroke-width="1"/><circle cx="1536.80" cy="750.80" r=".8" fill="#444"/><path class="t" d="M1598.60 958.00L1625.00 958.00"/><path class="t" d="M1598.00 1003.10L1625.00 1003.10"/><path class="t" d="M1621.60 958.00L1621.60 1003.10"/><path class="a" d="M1621.60 958.00L1623.50 967.70L1619.70 967.70Z"/><path class="a" d="M1621.60 1003.10L1619.70 993.40L1623.50 993.40Z"/><path class="t" d="M1474.50 1003.50L1474.50 1028.80"/><path class="t" d="M1597.40 1003.50L1597.40 1028.80"/><path class="t" d="M1474.50 1025.40L1597.40 1025.40"/><path class="a" d="M1474.50 1025.40L1484.30 1023.50L1484.30 1027.30Z"/><path class="a" d="M1597.40 1025.40L1587.60 1027.30L1587.60 1023.50Z"/>
<path class="t" d="M409.50 687.50L798.60 687.50"/><path class="t" d="M409.50 687.50L387.60 763.40"/><path class="a" d="M387.20 764.70L388.07 754.85L391.72 755.91Z"/><path class="t" d="M468.60 738.10L580.90 776.50"/><path class="a" d="M468.60 738.10L478.39 739.44L477.16 743.04Z"/><path class="a" d="M580.90 776.50L571.11 775.16L572.34 771.56Z"/><path class="t" d="M456.90 768.00L469.30 735.00"/><path class="t" d="M562.90 831.50L583.30 773.60"/><path class="t" d="M627.00 1077.80L1035.20 1077.80"/><path class="t" d="M1035.20 1077.80L1044.20 860.50"/><path class="t" d="M1035.20 1077.80L1043.90 952.20"/><path class="a" d="M1044.55 852.60L1046.09 861.17L1042.30 861.01Z"/><path class="a" d="M1044.55 944.50L1045.85 953.11L1042.06 952.85Z"/><path class="t" d="M1186.00 1003.10L1291.00 1003.10"/><path class="t" d="M1057.00 942.00L1223.30 942.00"/><path class="t" d="M1219.50 942.00L1219.50 1003.10"/><path class="a" d="M1219.50 942.00L1221.35 951.70L1217.65 951.70Z"/><path class="a" d="M1219.50 1003.10L1217.65 993.40L1221.35 993.40Z"/><path class="t" d="M1057.00 850.30L1235.00 850.30"/><path class="t" d="M1231.50 850.30L1231.50 1003.10"/><path class="a" d="M1231.50 850.30L1233.35 860.00L1229.65 860.00Z"/><path class="a" d="M1231.50 1003.10L1229.65 993.40L1233.35 993.40Z"/><path class="t" d="M1109.80 834.30L1253.00 834.30"/><path class="t" d="M1249.30 834.30L1249.30 1003.10"/><path class="a" d="M1249.30 834.30L1251.15 844.00L1247.45 844.00Z"/><path class="a" d="M1249.30 1003.10L1247.45 993.40L1251.15 993.40Z"/><path class="t" d="M1079.80 782.60L1270.00 782.60"/><path class="t" d="M1266.80 782.60L1266.80 1003.10"/><path class="a" d="M1266.80 782.60L1268.65 792.30L1264.95 792.30Z"/><path class="a" d="M1266.80 1003.10L1264.95 993.40L1268.65 993.40Z"/><path class="t" d="M1037.70 704.80L1290.80 704.80"/><path class="t" d="M1287.00 704.80L1287.00 1003.10"/><path class="a" d="M1287.00 704.80L1288.85 714.50L1285.15 714.50Z"/><path class="a" d="M1287.00 1003.10L1285.15 993.40L1288.85 993.40Z"/>
<text transform="translate(549.47 481.01) scale(1.1900 1)" font-size="29.77" letter-spacing="-0.50">35</text><text transform="translate(1116.37 481.01) scale(1.1900 1)" font-size="29.77" letter-spacing="-0.50">35</text><text transform="translate(783.60 483.30) scale(0.9618 1)" font-size="28.10">X</text><text transform="translate(804.22 481.57) scale(0.9664 1)" font-size="30.22">(</text><text transform="translate(909.67 481.57) scale(0.9535 1)" font-size="30.22">)</text><text class="cj" x="816.19" y="483.86" font-size="29.42" letter-spacing="1.46">发光区</text><text transform="translate(553.14 558.60) scale(0.9814 1)" font-size="27.49">L</text><text transform="translate(573.91 558.40) scale(1.1453 1)" font-size="27.80">=</text><text transform="translate(597.12 558.40) scale(1.1200 1)" font-size="27.80" letter-spacing="0.65">70</text><text transform="translate(630.37 557.19) scale(1.0087 1)" font-size="30.11">(</text><text transform="translate(640.73 558.40) scale(1.1200 1)" font-size="27.80" letter-spacing="1.41">35</text><text transform="translate(675.58 558.40) scale(0.9673 1)" font-size="27.80">+</text><text transform="translate(691.53 558.40) scale(1.1200 1)" font-size="27.80" letter-spacing="1.41">35</text><text class="cj" x="728.07" y="559.70" font-size="29.18" letter-spacing="2.06">端板厚度</text><text transform="translate(852.52 557.19) scale(1.1121 1)" font-size="30.11">)</text><text transform="translate(863.08 558.40) scale(0.9673 1)" font-size="27.80">+</text><text transform="translate(879.70 558.60) scale(0.9413 1)" font-size="28.71">X</text><text transform="translate(899.97 557.19) scale(1.0087 1)" font-size="30.11">(</text><text class="cj" x="909.62" y="559.53" font-size="30">以</text><text transform="translate(943.31 558.40) scale(1.1200 1)" font-size="27.80" letter-spacing="1.73">150</text><text class="cj" x="995.29" y="559.61" font-size="30.39" letter-spacing="0.93">的倍数递增</text><text transform="translate(1152.62 557.19) scale(1.0087 1)" font-size="30.11">)</text><text class="cj" x="414.03" y="674.25" font-size="29.66" letter-spacing="1.6">航空接头</text><circle cx="543.2" cy="662.0" r="2.5" fill="#111"/><circle cx="543.2" cy="672.6" r="2.5" fill="#111"/><text transform="translate(559.90 674.62) scale(1.0000 1)" font-size="28.73" letter-spacing="1.77">16M-6J\16J6TQ</text><text transform="translate(492.6 731.0) rotate(19.3) scale(1.14 1)" font-size="28.8" font-style="italic" stroke-width=".8">2-1500</text><text transform="translate(628.41 1067.00) scale(1.1000 1)" font-size="27.94" letter-spacing="2.52">2-2</text><path d="M680.6 1049.9L698.0 1067.0M698.0 1049.9L680.6 1067.0" fill="none" stroke="#111" stroke-width="4.1"/><text transform="translate(706.02 1066.73) scale(1.0400 1)" font-size="27.53" letter-spacing="1.83">6-M4</text><text class="cj" x="780.89" y="1068.23" font-size="31.28" letter-spacing="-1.18">安装螺栓</text><text transform="translate(905.30 1064.93) scale(0.8826 1)" font-size="30.88">(</text><text transform="translate(946.01 1064.93) scale(0.8952 1)" font-size="30.88">)</text><text class="cj" x="915.53" y="1068.12" font-size="30.3">母</text><path d="M962.3 1064.8a3.3 3.3 0 1 1 6.3 0.6c0 3.4-2.2 5.8-5.4 6.9l-.7-1.3c1.9-.9 3-2.2 3.1-3.6a3.3 3.3 0 0 1-3.3-2.6z" fill="#111"/><text class="cj" x="630.32" y="1119.01" font-size="30.5" letter-spacing="0.81" stroke-width=".9">位置可根据安装需求自行调整</text><text transform="translate(1515.23 1060.72) scale(1.2000 1)" font-size="28.45" letter-spacing="1.02">40</text><text transform="translate(1659.59 1010.94) rotate(-90) scale(1.1954 1)" font-size="28.62">14.7</text><text transform="translate(1213.49 1001.57) rotate(-90) scale(1.1000 1)" font-size="29.15" letter-spacing="1.31">19.8</text><text transform="translate(1225.59 920.44) rotate(-90) scale(1.1000 1)" font-size="29.00" letter-spacing="1.41">49.8</text><text transform="translate(1261.70 943.38) rotate(-90) scale(1.1000 1)" font-size="31.15" letter-spacing="-0.63" font-style="italic">55</text><text transform="translate(1279.80 899.59) rotate(-90) scale(1.1000 1)" font-size="30.06" letter-spacing="0.62" font-style="italic">72</text><text transform="translate(1318.48 901.09) rotate(-90) scale(1.1000 1)" font-size="29.72" letter-spacing="1.09">97.4</text><text transform="translate(1282.70 371.66) rotate(-90) scale(1.1000 1)" font-size="30.69" letter-spacing="0.13">45</text><text transform="translate(1238.00 417.09) rotate(-90) scale(0.8700 1)" font-size="28.63" letter-spacing="3.44">17</text><path d="M1215.2 379.1Q1228.7 392.0 1242.2 379.1Q1228.7 388.4 1215.2 379.1Z" fill="#111" stroke="#111" stroke-width=".7" stroke-linejoin="round"/><path d="M1215.2 297.6Q1228.7 284.7 1242.2 297.6Q1228.7 288.3 1215.2 297.6Z" fill="#111" stroke="#111" stroke-width=".7" stroke-linejoin="round"/><text class="cs" transform="translate(1238.60 375.89) rotate(-90) scale(0.9316 1)" font-size="27.5">发</text><text class="cs" transform="translate(1238.60 350.17) rotate(-90) scale(0.8996 1)" font-size="27.5">光</text><text class="cs" transform="translate(1238.60 324.23) rotate(-90) scale(0.9465 1)" font-size="27.5">区</text>
</svg>
</body></html>
